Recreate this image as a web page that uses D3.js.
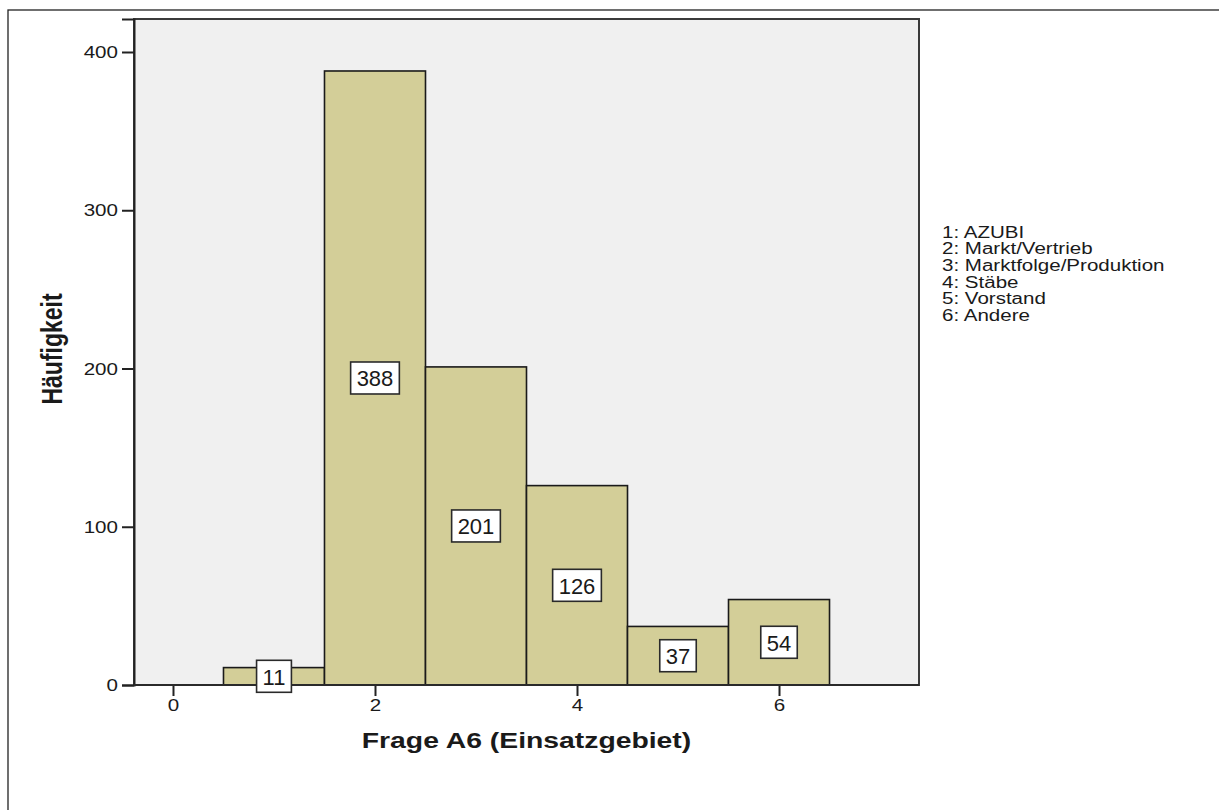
<!DOCTYPE html>
<html>
<head>
<meta charset="utf-8">
<script src="https://cdn.jsdelivr.net/npm/d3@7"></script>
<style>
  html, body { margin: 0; padding: 0; background: #fff; }
  svg { display: block; }
  text { font-family: "Liberation Sans", Arial, sans-serif; fill: #1a1a1a; }
</style>
</head>
<body>
<script>
// ---- data ----
const categories = [1, 2, 3, 4, 5, 6];
const counts = [11, 388, 201, 126, 37, 54];
const legendLabels = ["1: AZUBI", "2: Markt/Vertrieb", "3: Marktfolge/Produktion", "4: Stäbe", "5: Vorstand", "6: Andere"];
const xTicks = [0, 2, 4, 6];
const yTicks = [0, 100, 200, 300, 400];
const xTitle = "Frage A6 (Einsatzgebiet)";
const yTitle = "Häufigkeit";

// ---- layout ----
const W = 1219, H = 810;
const plot = { left: 134, right: 919, top: 19, bottom: 685 };
const SX = 1.3; // horizontal stretch of the original rendering

const svg = d3.select("body").append("svg").attr("width", W).attr("height", H);

// outer frame
svg.append("rect").attr("x", 8).attr("y", 10).attr("width", 1400).attr("height", 1000)
  .attr("fill", "none").attr("stroke", "#222").attr("stroke-width", 1.3);

const x = d3.scaleLinear().domain([-0.386, 7.386]).range([plot.left, plot.right]);
const y = d3.scaleLinear().domain([0, 420.85]).range([plot.bottom, plot.top]);

// plot background
svg.append("rect").attr("x", plot.left).attr("y", plot.top)
  .attr("width", plot.right - plot.left).attr("height", plot.bottom - plot.top)
  .attr("fill", "#f0f0f0").attr("stroke", "#3a3a3a").attr("stroke-width", 2);

// bars
const bars = categories.map((c, i) => ({ c, v: counts[i] }));
svg.append("g").selectAll("rect").data(bars).join("rect")
  .attr("x", d => x(d.c - 0.5))
  .attr("width", d => x(d.c + 0.5) - x(d.c - 0.5))
  .attr("y", d => y(d.v))
  .attr("height", d => y(0) - y(d.v))
  .attr("fill", "#d3ce98")
  .attr("stroke", "#1a1a1a").attr("stroke-width", 1.6);

// y axis
const yAxis = svg.append("g").attr("transform", `translate(${plot.left},0)`)
  .call(d3.axisLeft(y).tickValues(yTicks).tickSize(12).tickPadding(0).tickFormat(d3.format("d")));
yAxis.select(".domain").attr("stroke", "#222").attr("stroke-width", 2);
yAxis.selectAll(".tick line").attr("stroke", "#222").attr("stroke-width", 2);
yAxis.selectAll(".tick text")
  .attr("x", null).attr("dy", null)
  .attr("font-size", 16.5).attr("fill", "#1a1a1a")
  .attr("text-anchor", "end").attr("dominant-baseline", "central")
  .attr("transform", `translate(-16,0) scale(${SX * 0.96},1)`)
  .style("font-family", "'Liberation Sans', Arial, sans-serif");

// x axis
const xAxis = svg.append("g").attr("transform", `translate(0,${plot.bottom})`)
  .call(d3.axisBottom(x).tickValues(xTicks).tickSize(11).tickPadding(0).tickFormat(d3.format("d")));
xAxis.select(".domain").remove();
xAxis.selectAll(".tick line").attr("stroke", "#222").attr("stroke-width", 2);
xAxis.selectAll(".tick text")
  .attr("y", null).attr("dy", null)
  .attr("font-size", 16.5).attr("fill", "#1a1a1a")
  .attr("text-anchor", "middle")
  .attr("transform", `translate(0,26) scale(${SX * 0.96},1)`)
  .style("font-family", "'Liberation Sans', Arial, sans-serif");
// redraw bottom axis line over bars
svg.append("line").attr("x1", plot.left).attr("x2", plot.right)
  .attr("y1", plot.bottom).attr("y2", plot.bottom)
  .attr("stroke", "#2a2a2a").attr("stroke-width", 2);

// value labels
const lab = svg.append("g").selectAll("g").data(bars).join("g")
  .attr("transform", d => `translate(${x(d.c)},${(y(d.v) + y(0)) / 2})`);
lab.each(function(d) {
  const g = d3.select(this);
  const r = g.append("rect");
  const t = g.append("text").text(d.v)
    .attr("font-size", 22).attr("text-anchor", "middle")
    .attr("dominant-baseline", "central").attr("y", 1);
  const bw = t.node().getComputedTextLength() + 12;
  r.attr("x", -bw / 2).attr("y", -16).attr("width", bw).attr("height", 32)
    .attr("fill", "#fff").attr("stroke", "#2a2a2a").attr("stroke-width", 1.6);
});

// axis titles
svg.append("text").text(xTitle)
  .attr("font-size", 21.8).attr("font-weight", "bold").attr("text-anchor", "middle")
  .attr("transform", `translate(${(plot.left + plot.right) / 2},748) scale(${SX},1)`);

svg.append("text").text(yTitle)
  .attr("font-size", 23).attr("font-weight", "bold").attr("text-anchor", "middle")
  .attr("transform", `translate(62,${(plot.top + plot.bottom) / 2 - 3}) scale(${SX},1) rotate(-90)`);

// legend
svg.append("g").selectAll("text").data(legendLabels).join("text")
  .text(d => d)
  .attr("font-size", 15.8)
  .attr("transform", (d, i) => `translate(942,${237.5 + i * 16.67}) scale(${SX},1)`);
</script>
</body>
</html>
